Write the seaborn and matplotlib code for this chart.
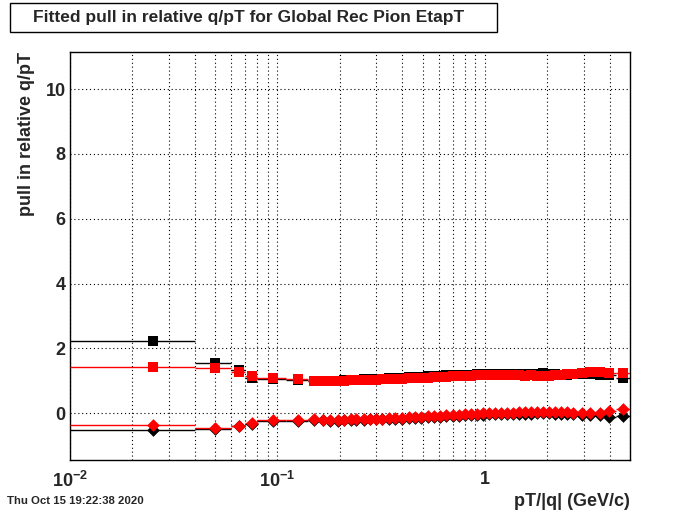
import numpy as np
import pandas as pd
import matplotlib
matplotlib.use("Agg")
import matplotlib.pyplot as plt
import seaborn as sns
from matplotlib.patches import Rectangle
from matplotlib.ticker import FixedLocator, MultipleLocator, NullFormatter, LogLocator

# ---------------- data ----------------
x_centers = [0.025, 0.05, 0.065, 0.075, 0.095, 0.125, 0.15, 0.165, 0.18, 0.195,
             0.21, 0.225, 0.24, 0.26, 0.28, 0.30, 0.32, 0.345, 0.37, 0.40,
             0.43, 0.46, 0.49, 0.53, 0.57, 0.61, 0.65, 0.70, 0.75, 0.80,
             0.86, 0.92, 0.98, 1.05, 1.12, 1.20, 1.28, 1.37, 1.46, 1.56,
             1.67, 1.78, 1.90, 2.04, 2.18, 2.32, 2.49, 2.66, 2.92, 3.20,
             3.58, 3.97, 4.64]
bin_edges = [0.01, 0.04, 0.06, 0.07, 0.08, 0.11, 0.14, 0.16, 0.17, 0.19,
             0.20, 0.22, 0.23, 0.25, 0.27, 0.29, 0.31, 0.33, 0.36, 0.385,
             0.415, 0.445, 0.475, 0.51, 0.55, 0.59, 0.63, 0.675, 0.725, 0.775,
             0.83, 0.89, 0.95, 1.015, 1.085, 1.16, 1.24, 1.325, 1.415, 1.51,
             1.615, 1.725, 1.84, 1.97, 2.11, 2.25, 2.40, 2.575, 2.79, 3.06,
             3.39, 3.775, 4.30, 5.0]

sq_black = [2.24, 1.56, 1.33, 1.10, 1.07, 1.04, 1.00, 0.99, 1.00, 1.01,
            1.02, 1.03, 1.04, 1.05, 1.05, 1.06, 1.07, 1.08, 1.09, 1.10,
            1.11, 1.12, 1.13, 1.14, 1.15, 1.16, 1.17, 1.18, 1.18, 1.19,
            1.19, 1.20, 1.21, 1.21, 1.21, 1.22, 1.22, 1.22, 1.22, 1.21,
            1.21, 1.22, 1.23, 1.22, 1.20, 1.19, 1.19, 1.20, 1.20, 1.22,
            1.19, 1.18, 1.10]
sq_red = [1.42, 1.39, 1.26, 1.15, 1.08, 1.05, 1.01, 1.00, 1.00, 1.01,
          1.01, 1.02, 1.02, 1.03, 1.03, 1.04, 1.05, 1.05, 1.06, 1.07,
          1.08, 1.09, 1.10, 1.10, 1.11, 1.12, 1.13, 1.14, 1.15, 1.15,
          1.16, 1.17, 1.17, 1.18, 1.18, 1.18, 1.19, 1.18, 1.17, 1.16,
          1.17, 1.16, 1.15, 1.16, 1.17, 1.18, 1.20, 1.22, 1.24, 1.28,
          1.26, 1.25, 1.23]
dia_black = [-0.52, -0.49, -0.40, -0.32, -0.23, -0.23, -0.20, -0.22, -0.23, -0.23,
             -0.22, -0.21, -0.21, -0.20, -0.19, -0.19, -0.18, -0.17, -0.16, -0.16,
             -0.15, -0.14, -0.13, -0.12, -0.11, -0.10, -0.09, -0.08, -0.07, -0.06,
             -0.05, -0.04, -0.04, -0.03, -0.03, -0.02, -0.02, -0.02, -0.01, -0.01,
             -0.01, 0.00, 0.01, 0.00, -0.01, -0.02, -0.02, -0.03, -0.04, -0.04,
             -0.06, -0.10, -0.08]
dia_red = [-0.36, -0.46, -0.39, -0.31, -0.22, -0.22, -0.19, -0.20, -0.21, -0.21,
           -0.20, -0.19, -0.19, -0.18, -0.17, -0.17, -0.16, -0.15, -0.14, -0.13,
           -0.12, -0.11, -0.10, -0.09, -0.08, -0.07, -0.06, -0.05, -0.04, -0.03,
           -0.02, -0.01, 0.00, 0.00, 0.01, 0.02, 0.02, 0.02, 0.03, 0.03,
           0.03, 0.04, 0.05, 0.04, 0.03, 0.03, 0.03, 0.02, 0.02, 0.02,
           0.02, 0.08, 0.14]
# vertical errors (only visible on the first bins)
sq_black_err_first = [0.09, 0.05, 0.04]

title_text = "Fitted pull in relative q/pT for Global Rec Pion EtapT"
ylabel_text = "pull in relative q/pT"
xlabel_text = "pT/|q| (GeV/c)"
date_text = "Thu Oct 15 19:22:38 2020"
xtick_vals = [0.01, 0.1, 1]
xtick_labels = ["$10^{-2}$", "$10^{-1}$", "1"]
ytick_vals = [0, 2, 4, 6, 8, 10]

# ---------------- style ----------------
sns.set_style("white")
plt.rcParams['font.family'] = ['Liberation Sans', 'DejaVu Sans']
plt.rcParams['font.weight'] = 'bold'
plt.rcParams['mathtext.fontset'] = 'custom'
plt.rcParams['mathtext.rm'] = 'Liberation Sans:bold'
plt.rcParams['mathtext.bf'] = 'Liberation Sans:bold'
plt.rcParams['mathtext.it'] = 'Liberation Sans:bold'
plt.rcParams['mathtext.default'] = 'rm'

W, H = 700, 512
fig = plt.figure(figsize=(W / 100, H / 100), dpi=100)
fig.patch.set_facecolor("white")
ax = fig.add_axes([70 / W, 1 - 460 / H, 560 / W, (460 - 51.5) / H])

x = np.array(x_centers)
edges = np.array(bin_edges)
lo = x - edges[:-1]
hi = edges[1:] - x

df = pd.DataFrame({
    "x": np.concatenate([x, x, x, x]),
    "y": np.concatenate([sq_black, dia_black, sq_red, dia_red]),
    "series": (["sq_black"] * len(x) + ["dia_black"] * len(x)
               + ["sq_red"] * len(x) + ["dia_red"] * len(x)),
})

styles = [
    ("sq_black", "black", "s", 56),
    ("dia_black", "black", "D", 42),
    ("sq_red", "#ff0000", "s", 56),
    ("dia_red", "#ff0000", "D", 42),
]
z = 3
for name, col, mk, sz in styles:
    sub = df[df.series == name]
    yerr = None
    if name == "sq_black":
        yerr = np.zeros(len(x))
        yerr[:len(sq_black_err_first)] = sq_black_err_first
    ax.errorbar(sub.x.values, sub.y.values, xerr=[lo, hi], yerr=yerr,
                fmt='none', ecolor=col, elinewidth=1.0, capsize=0, zorder=z)
    sns.scatterplot(data=sub, x="x", y="y", color=col, marker=mk, s=sz,
                    linewidth=0, edgecolor=col, ax=ax, zorder=z + 0.5,
                    legend=False)
    z += 1

ax.set_xscale('log')
ax.set_xlim(0.01, 5.0)
ax.set_ylim(-1.44, 11.16)
ax.set_xlabel("")
ax.set_ylabel("")

ax.xaxis.set_major_locator(FixedLocator(xtick_vals))
ax.set_xticklabels(xtick_labels)
ax.xaxis.set_minor_locator(LogLocator(base=10, subs=np.arange(2, 10)))
ax.xaxis.set_minor_formatter(NullFormatter())
ax.yaxis.set_major_locator(FixedLocator(ytick_vals))
ax.yaxis.set_minor_locator(MultipleLocator(0.5))

ax.tick_params(axis='both', which='both', direction='in', top=False, right=False,
               color='black', width=1.0, labelsize=13)
ax.tick_params(axis='x', which='major', length=10, pad=8)
ax.tick_params(axis='x', which='minor', length=5.5)
ax.tick_params(axis='y', which='major', length=11.5, pad=3)
ax.tick_params(axis='y', which='minor', length=5.8)
for lab in ax.get_xticklabels() + ax.get_yticklabels():
    lab.set_fontweight('bold')

grid_kw = dict(color='black', linestyle=(0, (1, 2.5)), linewidth=0.8)
ax.grid(True, which='both', axis='x', **grid_kw)
ax.grid(True, which='major', axis='y', **grid_kw)
ax.grid(False, which='minor', axis='y')
ax.set_axisbelow(True)

for sp in ax.spines.values():
    sp.set_visible(True)
    sp.set_color('black')
    sp.set_linewidth(1.0)

# title box
fig.patches.append(Rectangle((10 / W, 1 - 32 / H), 487 / W, 29 / H,
                             transform=fig.transFigure, facecolor='white',
                             edgecolor='black', linewidth=1.0))
fig.text(249 / W, 1 - 17.5 / H, title_text, ha='center', va='center',
         fontsize=12.5, fontweight='bold')

fig.text(27 / W, 1 - 52 / H, ylabel_text, rotation=90, ha='center', va='top',
         fontsize=13, fontweight='bold')
fig.text(630 / W, 1 - 501 / H, xlabel_text, ha='right', va='center',
         fontsize=13, fontweight='bold')
fig.text(7 / W, 1 - 501 / H, date_text, ha='left', va='center',
         fontsize=8.2, fontweight='bold')

fig.savefig("out.png", dpi=100)
